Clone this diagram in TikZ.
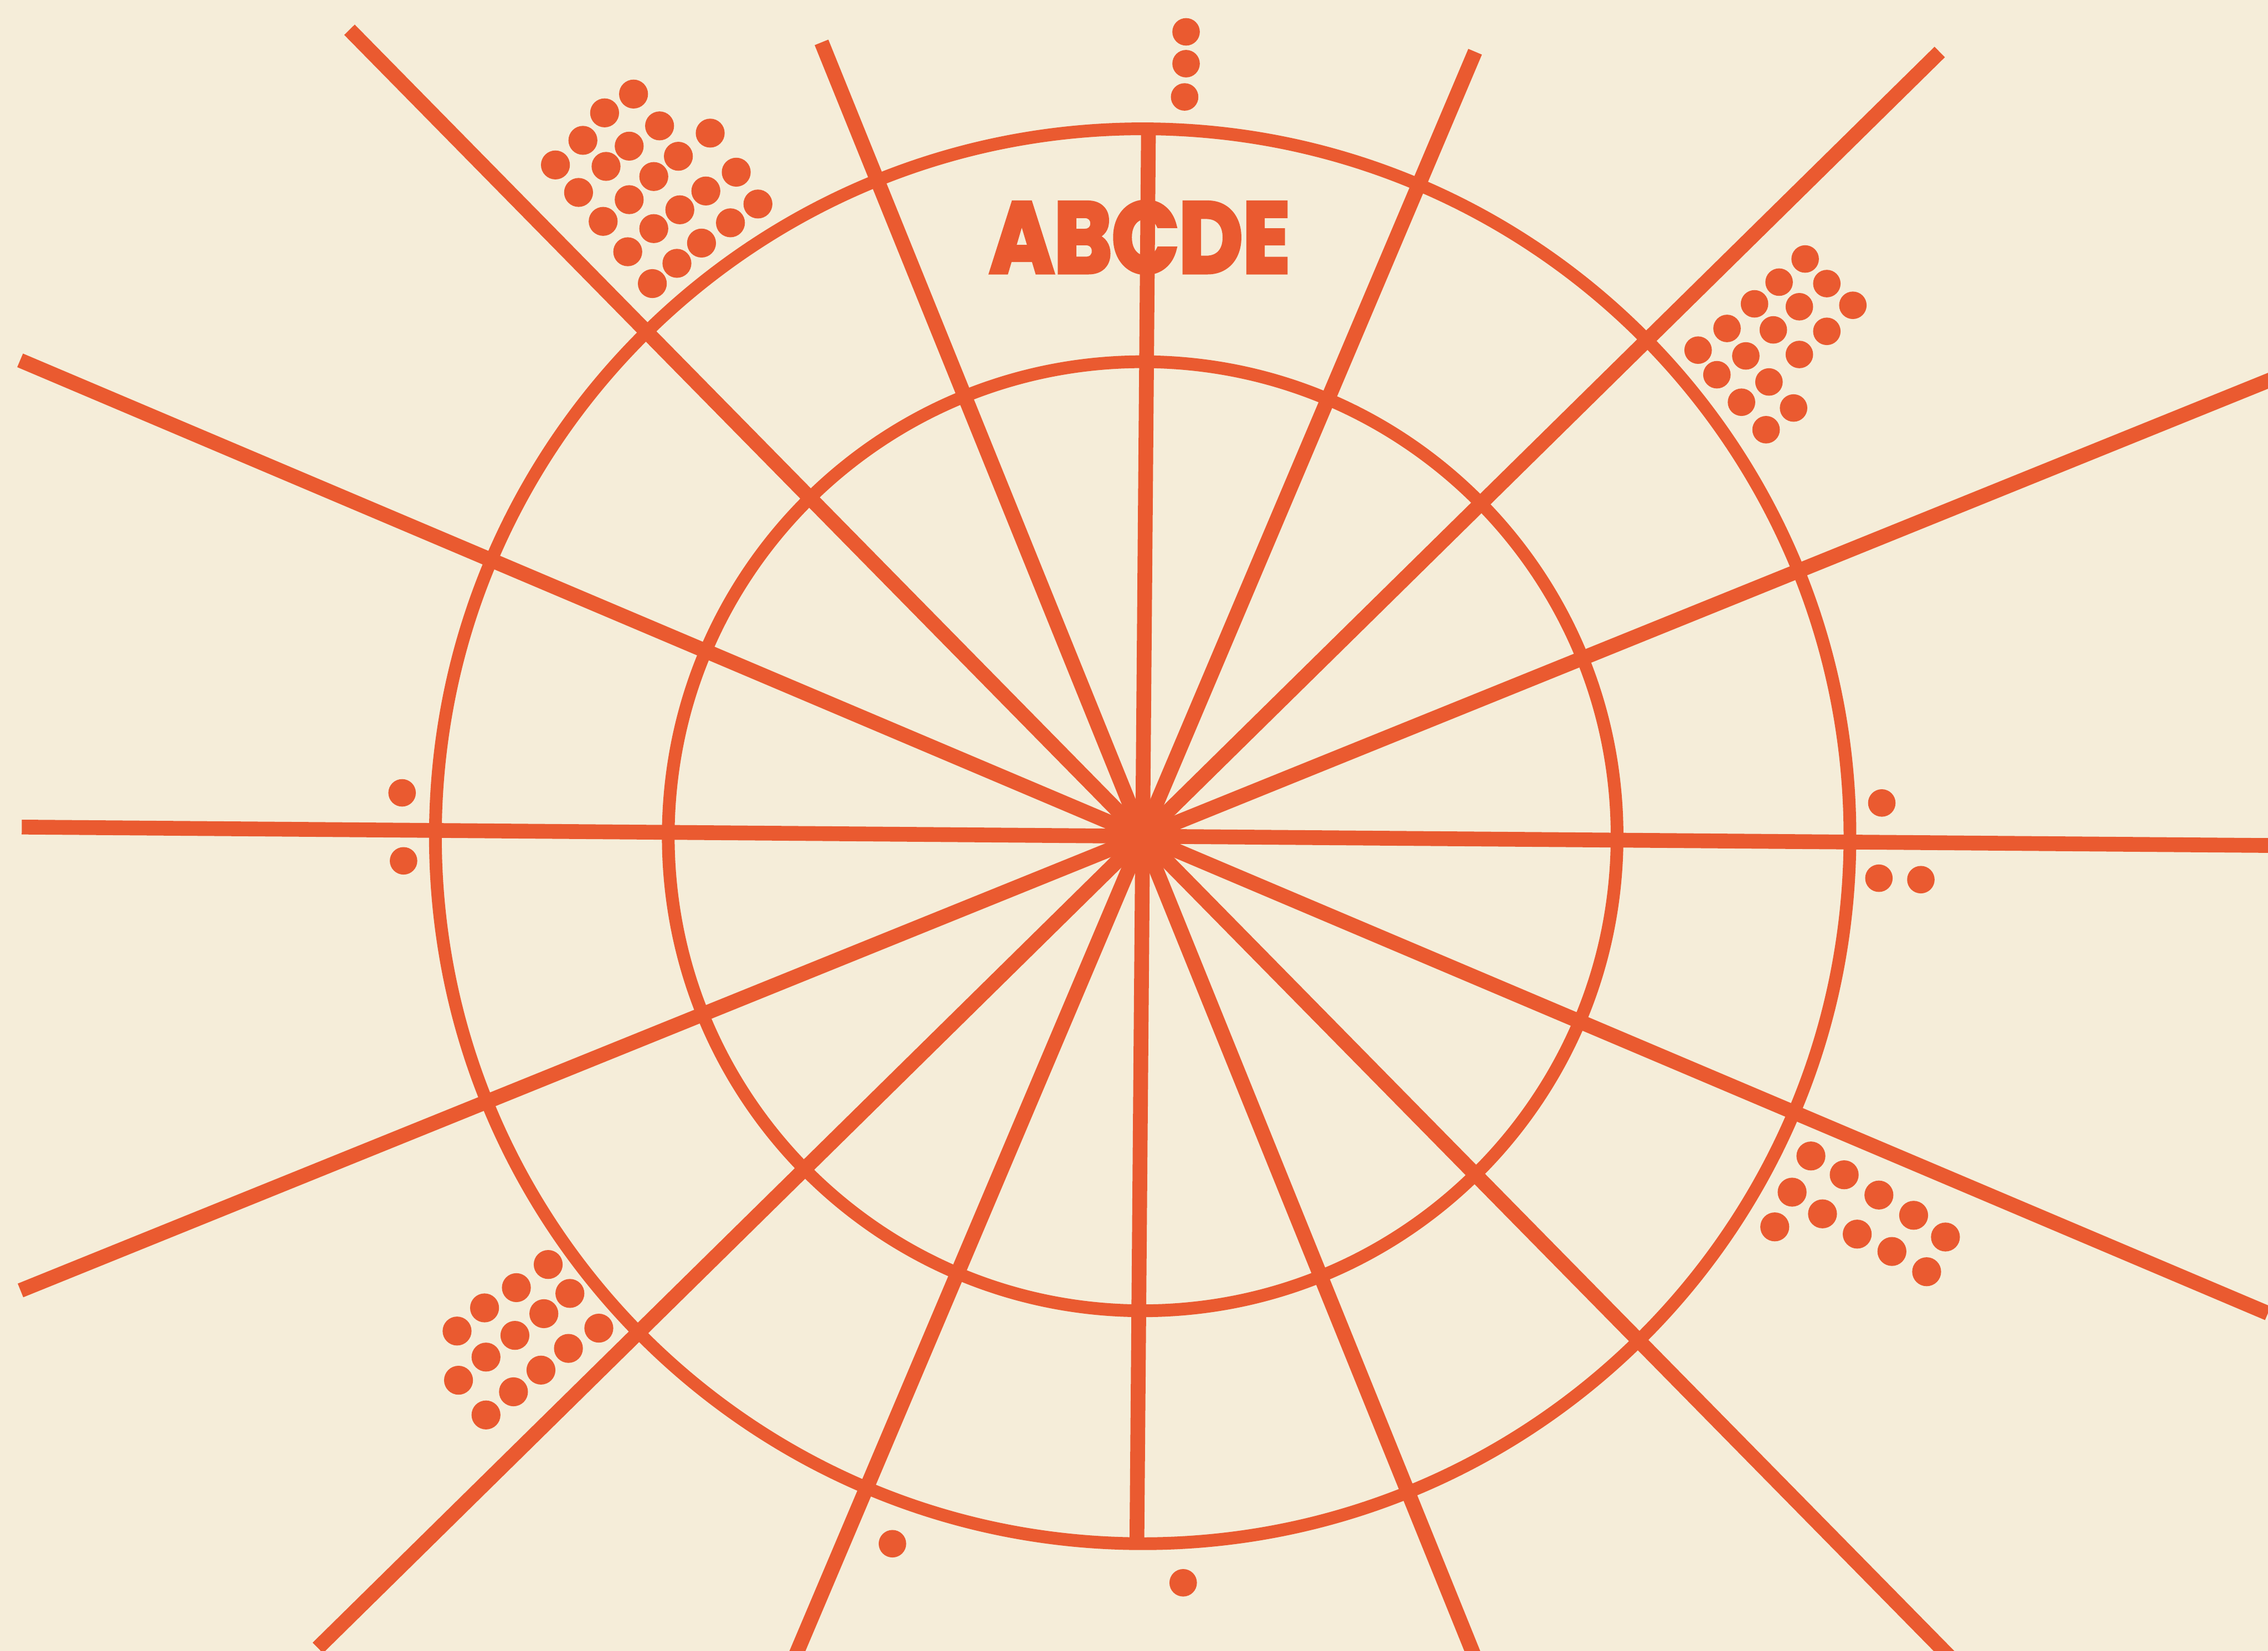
\documentclass[tikz,border=0pt]{standalone}
\usepackage{fontspec}
\usepackage{tikz}
\newfontfamily\titlefont[BoldFeatures={FakeBold=4}]{Poppins}
\definecolor{paper}{RGB}{245,237,217}
\definecolor{inkorange}{RGB}{234,90,48}

\begin{document}
\begin{tikzpicture}[x=0.01cm, y=-0.01cm]
    \fill[paper] (0,0) rectangle (1568,1141);
    \useasboundingbox (0,0) rectangle (1568,1141);

    % wheel: two rings and sixteen spokes
    \begin{scope}[shift={(790,578)}, rotate=-0.47, inkorange]
        \draw[line width=2.5pt] (0,0) circle (489);
        \draw[line width=2.5pt] (0,0) circle (328);

        \draw[line width=2.9pt] (0:780) -- (180:775);
        \draw[line width=2.9pt] (22.5:845) -- (202.5:843);
        \draw[line width=2.9pt] (45:800) -- (225:782);
        \draw[line width=2.9pt] (67.5:615) -- (247.5:592);
        \draw[line width=2.9pt] (90:489) -- (270:489);
        \draw[line width=2.9pt] (112.5:615) -- (292.5:589);
        \draw[line width=2.9pt] (135:800) -- (315:773);
        \draw[line width=2.9pt] (157.5:837) -- (337.5:845);
    \end{scope}

    \node[inkorange, font=\titlefont\bfseries\fontsize{19.6}{20}\selectfont, xscale=0.88, inner sep=0pt] (title) at (788,164) {ABCDE};

    % dot clusters between the spokes
    \foreach \px/\py in {438/65, 418/78, 456/87, 491/92, 403/97, 435/101, 469/108, 384/114,
        419/115, 452/122, 509/119, 400/133, 435/138, 488/132, 470/145, 524/141, 417/153,
        452/158, 505/154, 434/174, 485/168, 468/182, 451/196}
        \fill[inkorange] (\px,\py) circle (10);
    \foreach \px/\py in {1248/179, 1230/195, 1263/196, 1213/210, 1244/212, 1281/211, 1194/227,
        1226/228, 1263/229, 1174/242, 1207/246, 1244/245, 1187/259, 1223/264, 1204/278,
        1240/282, 1221/297}
        \fill[inkorange] (\px,\py) circle (9.5);
    \foreach \px/\py in {1252/799, 1275/812, 1239/824, 1299/826, 1260/839, 1323/840, 1227/848,
        1284/853, 1345/855, 1308/865, 1332/879}
        \fill[inkorange] (\px,\py) circle (10);
    \foreach \px/\py in {379/874, 357/890, 394/894, 335/904, 376/908, 316/920, 356/923, 414/918,
        336/938, 393/932, 374/947, 317/954, 355/962, 336/978}
        \fill[inkorange] (\px,\py) circle (10);

    % single dots round the rim
    \foreach \px/\py in {820/22, 820/44, 819/67, 278/548, 279/595, 1301/555, 1299/607,
        1328/608, 617/1067, 818/1094}
        \fill[inkorange] (\px,\py) circle (9.5);
\end{tikzpicture}
\end{document}
